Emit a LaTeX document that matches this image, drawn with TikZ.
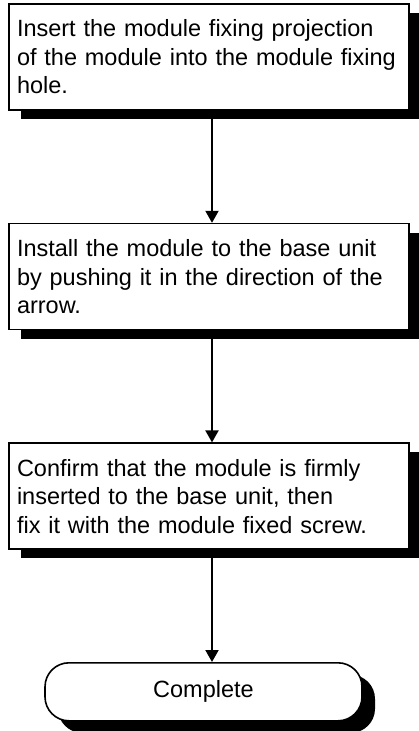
\documentclass[tikz,border=0pt]{standalone}
\usepackage{fontspec}
\setmainfont{Liberation Sans}
\usetikzlibrary{arrows.meta,positioning,shadows}

\begin{document}
\begin{tikzpicture}[x=1pt,y=1pt,>={Triangle[length=12pt,width=13pt]},node distance=112pt,font=\fontsize{23.5}{28.5}\selectfont,
    stepbox/.style={draw,line width=1.6pt,fill=white,minimum height=106pt,text width=384pt,inner xsep=8pt,align=left,drop shadow={shadow xshift=12pt,shadow yshift=-9pt,opacity=1,fill=black}},
    endbox/.style={draw,line width=1.6pt,fill=white,rounded corners=24pt,minimum width=317pt,minimum height=58pt,drop shadow={shadow xshift=13pt,shadow yshift=-12pt,opacity=1,fill=black}}]
    \useasboundingbox (0,0) rectangle (418,-731);
    \node[stepbox] (insert) at (209,-57) {Insert the module fixing projection\\of the module into the module fixing\\hole.};
    \node[stepbox,below=of insert] (install) {Install the module to the base unit\\by pushing it in the direction of the\\arrow.};
    \node[stepbox,below=of install] (confirm) {Confirm that the module is firmly\\inserted to the base unit, then\\fix it with the module fixed screw.};
    \node[endbox,below=of confirm,xshift=-5.5pt] (done) {Complete};
    \draw[->,line width=2pt] ([xshift=3pt]insert.south) -- ([xshift=3pt]install.north);
    \draw[->,line width=2pt] ([xshift=3pt]install.south) -- ([xshift=3pt]confirm.north);
    \draw[->,line width=2pt] ([xshift=3pt]confirm.south) -- ([xshift=3pt]confirm.south |- done.north);
  \end{tikzpicture}
\end{document}
